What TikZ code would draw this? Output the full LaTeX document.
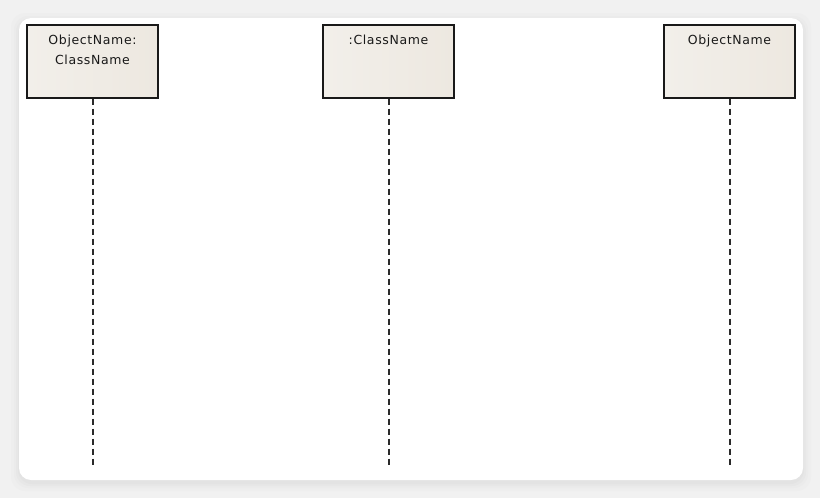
\documentclass[tikz,border=0pt]{standalone}
\usepackage{fontspec}
\newfontfamily\seqfont[LetterSpace=5]{DejaVu Sans}
\usetikzlibrary{positioning}

\definecolor{pagegray}{HTML}{F1F1F1}
\definecolor{shadowgray}{HTML}{C8C8C8}
\definecolor{boxleft}{HTML}{F2EFEA}
\definecolor{boxmid}{HTML}{F8EEE4}
\definecolor{boxright}{HTML}{EDE8E0}
\definecolor{lifegray}{HTML}{2A2A2A}

\tikzset{
	objbox/.style={draw=black!90, line width=1.3pt, minimum width=131pt, minimum height=73pt, inner sep=0pt,
		left color=boxleft, middle color=boxmid, right color=boxright},
	boxtext/.style={anchor=north, yshift=-7.5pt, align=center, text=black!90,
		font=\seqfont\fontsize{12.5}{19.5}\selectfont},
	lifeline/.style={draw=lifegray, line width=2pt, dash pattern=on 6pt off 4pt}
}

\begin{document}
\begin{tikzpicture}[x=1pt,y=-1pt]
	\useasboundingbox (0,0) rectangle (820,498);
	\fill[pagegray] (0,0) rectangle (820,498);
	
	% panel with soft shadow
	\foreach \s/\o in {8/0.06,5/0.08,3/0.1,1/0.12}
		\fill[shadowgray, opacity=\o, rounded corners=14pt] (19-\s,18-\s+3) rectangle (803+\s,480+\s+3);
	\fill[white, rounded corners=12pt] (19,18) rectangle (803,480);
	
	\node[objbox, label={[boxtext]north:{ObjectName:\\ClassName}}] (obj1) at (92.5,61.5) {};
	\node[objbox, label={[boxtext]north:{:ClassName}}] (obj2) at (388.5,61.5) {};
	\node[objbox, label={[boxtext]north:{ObjectName}}] (obj3) at (729.5,61.5) {};
	
	\coordinate (end1) at (92.5,465);
	\coordinate (end2) at (388.5,465);
	\coordinate (end3) at (729.5,465);
	\draw[lifeline] (obj1.south) -- (end1);
	\draw[lifeline] (obj2.south) -- (end2);
	\draw[lifeline] (obj3.south) -- (end3);
\end{tikzpicture}
\end{document}
